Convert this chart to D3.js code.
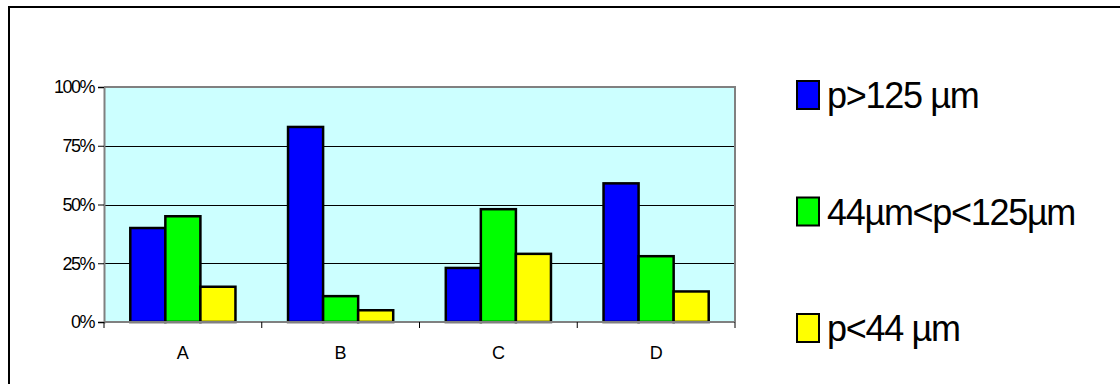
<!DOCTYPE html>
<html>
<head>
<meta charset="utf-8">
<script src="https://cdn.jsdelivr.net/npm/d3@7"></script>
<style>
  html, body { margin: 0; padding: 0; background: #fff; }
  svg { display: block; font-family: "Liberation Sans", Arial, sans-serif; }
</style>
</head>
<body>
<svg id="chart" width="1120" height="384"></svg>
<script>
// Particle size fractions per sample
const categories = ["A", "B", "C", "D"];
const seriesNames = ["p>125 µm", "44µm<p<125µm", "p<44 µm"];
const seriesColors = ["#0000FF", "#00FF00", "#FFFF00"];
const coarse = [0.40, 0.83, 0.23, 0.59];
const medium = [0.45, 0.11, 0.48, 0.28];
const fine = [0.15, 0.05, 0.29, 0.13];
const yTicks = [0, 0.25, 0.5, 0.75, 1];

const seriesValues = [coarse, medium, fine];
const rows = categories.map((c, i) => ({
  cat: c,
  vals: seriesNames.map((s, k) => ({ key: s, value: seriesValues[k][i], color: seriesColors[k] }))
}));

const svg = d3.select("#chart");

// Outer frame of the chart object
svg.append("path")
  .attr("d", "M9,390 L9,7 L1130,7")
  .attr("fill", "none").attr("stroke", "#000").attr("stroke-width", 2);

const plot = { left: 104, right: 735, top: 87, bottom: 322 };

const x = d3.scaleBand().domain(categories).range([plot.left, plot.right]).paddingInner(0).paddingOuter(0);
const y = d3.scaleLinear().domain([0, 1]).range([plot.bottom, plot.top]);

// bar width from a 150% gap between groups
const barW = x.bandwidth() / 4.5;
const x1 = d3.scaleBand().domain(seriesNames).range([0, barW * 3]);

// plot area background
svg.append("rect")
  .attr("x", plot.left).attr("y", plot.top)
  .attr("width", plot.right - plot.left).attr("height", plot.bottom - plot.top)
  .attr("fill", "#CCFFFF");

// gridlines
svg.append("g").selectAll("line")
  .data(yTicks.filter(t => t > 0 && t < 1))
  .join("line")
  .attr("x1", plot.left).attr("x2", plot.right)
  .attr("y1", d => Math.round(y(d)) + 0.5).attr("y2", d => Math.round(y(d)) + 0.5)
  .attr("stroke", "#000").attr("stroke-width", 1);

// top and right border of the plot area
svg.append("path")
  .attr("d", `M${plot.left},${plot.top} L${plot.right},${plot.top} L${plot.right},${plot.bottom}`)
  .attr("fill", "none").attr("stroke", "#808080").attr("stroke-width", 2);

// bars
const groups = svg.append("g").selectAll("g")
  .data(rows).join("g")
  .attr("transform", d => `translate(${x(d.cat) + barW * 0.75},0)`);
groups.selectAll("rect")
  .data(d => d.vals).join("rect")
  .attr("x", d => x1(d.key))
  .attr("y", d => y(d.value))
  .attr("width", x1.bandwidth())
  .attr("height", d => y(0) - y(d.value))
  .attr("fill", d => d.color)
  .attr("stroke", "#000").attr("stroke-width", 2.5);

// y axis
const yAxis = svg.append("g")
  .attr("transform", `translate(${plot.left},0)`)
  .call(d3.axisLeft(y).tickValues(yTicks).tickFormat(d3.format(".0%")).tickSize(6).tickPadding(4));
yAxis.select(".domain").attr("stroke", "#808080").attr("stroke-width", 2);
yAxis.selectAll(".tick line").attr("stroke", "#000");
yAxis.selectAll(".tick text")
  .attr("fill", "#000").attr("font-size", 18).attr("letter-spacing", -1.5)
  .attr("font-family", "'Liberation Sans', Arial, sans-serif");

// x axis: ticks mark category boundaries
const xAxis = svg.append("g").attr("transform", `translate(0,${plot.bottom})`);
xAxis.append("line")
  .attr("x1", plot.left).attr("x2", plot.right)
  .attr("stroke", "#808080").attr("stroke-width", 2);
const bounds = categories.map(c => x(c)).concat([plot.right]);
xAxis.selectAll("line.tk").data(bounds).join("line").attr("class", "tk")
  .attr("x1", d => d).attr("x2", d => d).attr("y1", 0).attr("y2", 6)
  .attr("stroke", "#000").attr("stroke-width", 1);
xAxis.selectAll("text").data(categories).join("text")
  .attr("x", d => x(d) + x.bandwidth() / 2)
  .attr("y", 37)
  .attr("text-anchor", "middle")
  .attr("font-size", 18)
  .text(d => d);

// legend
const legend = svg.append("g").attr("transform", "translate(797,81)");
const item = legend.selectAll("g").data(seriesNames).join("g")
  .attr("transform", (d, i) => `translate(0,${i * 116.5})`);
item.append("rect")
  .attr("width", 22).attr("height", 28)
  .attr("fill", (d, i) => seriesColors[i])
  .attr("stroke", "#000").attr("stroke-width", 2);
item.append("text")
  .attr("x", 30).attr("y", 27)
  .attr("font-size", 36).attr("letter-spacing", -1.3)
  .text(d => d);
</script>
</body>
</html>
